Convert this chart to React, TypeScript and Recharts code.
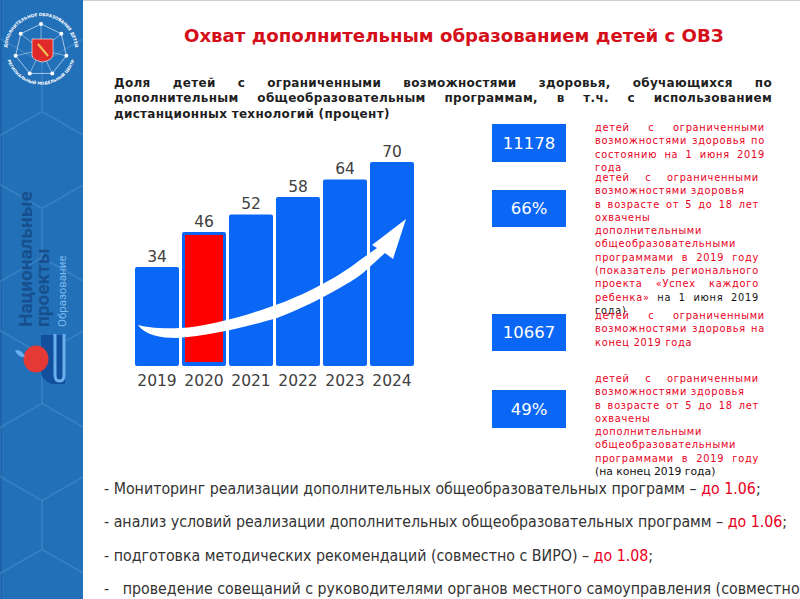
import React from "react";
import { BarChart, Bar, XAxis, YAxis, LabelList } from "recharts";

const years = ["2019", "2020", "2021", "2022", "2023", "2024"];
const shares = [34, 46, 52, 58, 64, 70];
const highlightYear = "2020";

const title = "Охват дополнительным образованием детей с ОВЗ";
const introLines = [
  "Доля детей с ограниченными возможностями здоровья, обучающихся по",
  "дополнительным общеобразовательным программам, в т.ч. с использованием",
  "дистанционных технологий (процент)",
];

const statValues = ["11178", "66%", "10667", "49%"];
// text after "|" is black in the original slide
const statNotes = [
  ["детей с ограниченными", "возможностями здоровья по", "состоянию на 1 июня 2019", "года"],
  [
    "детей с ограниченными",
    "возможностями здоровья",
    "в возрасте от 5 до 18 лет",
    "охвачены",
    "дополнительными",
    "общеобразовательными",
    "программами в 2019 году",
    "(показатель регионального",
    "проекта «Успех каждого",
    "ребенка» |на 1 июня 2019",
    "|года)",
  ],
  ["детей с ограниченными", "возможностями здоровья на", "конец 2019 года"],
  [
    "детей с ограниченными",
    "возможностями здоровья",
    "в возрасте от 5 до 18 лет",
    "охвачены",
    "дополнительными",
    "общеобразовательными",
    "программами в 2019 году",
    "|(на конец 2019 года)",
  ],
];
const unjustified = ["возможностями здоровья", "конец 2019 года", "|(на конец 2019 года)"];

const actions = [
  ["- Мониторинг реализации дополнительных общеобразовательных программ – ", "до 1.06", ";"],
  ["- анализ условий реализации дополнительных общеобразовательных программ – ", "до 1.06", ";"],
  ["- подготовка методических рекомендаций (совместно с ВИРО) – ", "до 1.08", ";"],
  ["-   проведение совещаний с руководителями органов местного самоуправления (совместно", "", ""],
];

const chartData = years.map((year, i) => ({ year, share: shares[i] }));

const BLUE = "#0a66f5";
const RED = "#e8001c";
const FONT = "'DejaVu Sans', sans-serif";

// blue bar, the current year gets a red fill inside
function YearBar(props: any) {
  const { x, y, width, height, payload } = props;
  return (
    <g>
      <rect x={x} y={y} width={width} height={height} rx={2} fill={BLUE} />
      {payload.year === highlightYear && (
        <rect x={x + 3} y={y + 3} width={width - 6} height={height - 7} fill="#ff0000" />
      )}
    </g>
  );
}

function Sidebar() {
  const hexes: string[] = [];
  for (let row = 0; row < 9; row++) {
    for (let col = 0; col < 3; col++) {
      const cx = col * 84 + (row % 2 ? 0 : 42);
      const cy = row * 73 + 14;
      hexes.push(
        `M${cx} ${cy - 48}L${cx + 42} ${cy - 24}L${cx + 42} ${cy + 24}L${cx} ${cy + 48}L${cx - 42} ${cy + 24}L${cx - 42} ${cy - 24}Z`
      );
    }
  }
  const spokes = [0, 1, 2, 3, 4, 5, 6].map((i) => {
    const a = (i * 2 * Math.PI) / 7 - Math.PI / 2;
    return [41 + 26 * Math.cos(a), 50 + 26 * Math.sin(a)];
  });
  return (
    <svg width={83} height={599} style={{ position: "absolute", left: 0, top: 0 }}>
      <rect width={83} height={599} fill="#2270b8" />
      <rect width={2} height={599} fill="#1c62a8" />
      <path d={hexes.join("")} fill="none" stroke="#3f86c6" strokeWidth={0.8} />
      {/* emblem */}
      <defs>
        <path id="emblemTop" d="M7 50A34 34 0 0 1 75 50" />
        <path id="emblemBottom" d="M7 58A35 35 0 0 0 75 58" />
      </defs>
      <polygon points={spokes.map((p) => p.join(",")).join(" ")} fill="none" stroke="#dbe9f6" strokeWidth={0.7} />
      {spokes.map((p, i) => (
        <g key={i}>
          <line x1={41} y1={50} x2={p[0]} y2={p[1]} stroke="#dbe9f6" strokeWidth={0.5} />
          <circle cx={p[0]} cy={p[1]} r={2} fill="#fff" />
        </g>
      ))}
      <text fontFamily={FONT} fontSize={4.2} fontWeight="bold" fill="#fff">
        <textPath href="#emblemTop" startOffset="50%" textAnchor="middle">
          ДОПОЛНИТЕЛЬНОЕ ОБРАЗОВАНИЕ ДЕТЕЙ
        </textPath>
      </text>
      <text fontFamily={FONT} fontSize={4} fontWeight="bold" fill="#fff">
        <textPath href="#emblemBottom" startOffset="50%" textAnchor="middle">
          РЕГИОНАЛЬНЫЙ МОДЕЛЬНЫЙ ЦЕНТР
        </textPath>
      </text>
      <path d="M32 39H53V55Q53 60 42.5 62Q32 60 32 55Z" fill="#e02a2a" stroke="#fff" strokeWidth={0.6} />
      <path d="M38 44L48 56" stroke="#f2c14e" strokeWidth={2} />
      {/* project logo */}
      <g fontFamily="'Roboto', sans-serif" transform="rotate(-90)">
        <text x={-327} y={32} fontSize={19} fontWeight="bold" fill="#17508f">Национальные</text>
        <text x={-327} y={49} fontSize={19} fontWeight="bold" fill="#17508f">проекты</text>
        <text x={-327} y={66} fontSize={11.5} fill="#7db7ea">Образование</text>
      </g>
      <path d="M41 335H65V383Q65 384 64 384H52Q41 380 41 372Z" fill="#124f9c" />
      <path d="M55 334V375Q55 381 59.5 381Q64 381 64 375V334" fill="none" stroke="#6bb0ee" strokeWidth={3} />
      <ellipse cx={36} cy={359} rx={12.5} ry={13.5} fill="#e53935" />
      <path d="M15 350Q22 349 25 357Q18 358 15 350Z" fill="#6bb0ee" />
    </svg>
  );
}

function StatNote({ lines, top, width }: { lines: string[]; top: number; width: number }) {
  return (
    <div style={{ position: "absolute", left: 595, top, width }}>
      {lines.map((line, i) => {
        const spread = line.includes(" ") && !unjustified.includes(line);
        const [redPart, blackPart] = line.split("|");
        const small = line.startsWith("|(");
        return (
          <div
            key={i}
            style={{
              height: 13.3,
              lineHeight: "13.3px",
              whiteSpace: "pre-wrap",
              textAlign: spread ? "justify" : "left",
              textAlignLast: spread ? "justify" : "left",
              letterSpacing: small ? 0 : 0.75,
              fontSize: small ? 10.8 : undefined,
            }}
          >
            {redPart}
            {blackPart && <span style={{ color: "#111" }}>{blackPart}</span>}
          </div>
        );
      })}
    </div>
  );
}

function StatBox({ value, top, height }: { value: string; top: number; height: number }) {
  return (
    <div
      style={{
        position: "absolute",
        left: 492,
        top,
        width: 74,
        height,
        lineHeight: `${height + 1}px`,
        background: BLUE,
        color: "#fff",
        textAlign: "center",
        fontSize: 16.5,
      }}
    >
      {value}
    </div>
  );
}

export default function App() {
  return (
    <div
      style={{
        position: "fixed",
        left: 0,
        top: 0,
        width: 800,
        height: 599,
        overflow: "hidden",
        background: "#fff",
        fontFamily: FONT,
      }}
    >
      <Sidebar />
      <div style={{ position: "absolute", left: 83, top: 0, width: 717, height: 1, background: "#cfcfcf" }} />

      <div style={{ position: "absolute", left: 184, top: 25, fontSize: 18.15, fontWeight: "bold", color: "#d40f1a", whiteSpace: "nowrap", lineHeight: "21px" }}>
        {title}
      </div>

      <div style={{ position: "absolute", left: 114, top: 75.5, width: 658, fontSize: 12, fontWeight: "bold", color: "#1f1f1f", letterSpacing: 0.3 }}>
        {introLines.map((line, i) => (
          <div
            key={i}
            style={{
              height: 15.5,
              lineHeight: "15.5px",
              whiteSpace: "nowrap",
              textAlign: "justify",
              textAlignLast: i < 2 ? "justify" : "left",
            }}
          >
            {line}
          </div>
        ))}
      </div>

      <div style={{ position: "absolute", left: 0, top: 0 }}>
        <BarChart
          width={800}
          height={599}
          data={chartData}
          barCategoryGap={1.5}
          margin={{ top: 162, right: 384.5, bottom: 0, left: 133.5 }}
        >
          <XAxis
            dataKey="year"
            axisLine={false}
            tickLine={false}
            interval={0}
            height={233}
            tick={{ fill: "#404040", fontSize: 15.5, fontFamily: FONT, dy: 1 }}
          />
          <YAxis hide domain={[0, 70]} />
          <Bar dataKey="share" shape={<YearBar />} isAnimationActive={false}>
            <LabelList dataKey="share" position="top" fill="#404040" fontSize={15.5} fontFamily={FONT} offset={5} />
          </Bar>
        </BarChart>
      </div>

      {/* growth arrow over the bars */}
      <svg width={800} height={599} style={{ position: "absolute", left: 0, top: 0, pointerEvents: "none" }}>
        <path
          d="M138 325C145 327 160 329 180 328C205 327 245 316 270 307C295 299 335 280 360 260L377 248L372 245L406 219L393 259L385 253L363 273C345 287 300 310 277 318C250 326 205 337 177 338C160 338 145 335 138 325Z"
          fill="#fff"
        />
      </svg>

      <StatBox value={statValues[0]} top={124} height={38} />
      <StatBox value={statValues[1]} top={190} height={37} />
      <StatBox value={statValues[2]} top={314} height={37} />
      <StatBox value={statValues[3]} top={390} height={38} />

      <div style={{ fontSize: 9.8, color: RED }}>
        <StatNote lines={statNotes[0]} top={121} width={170} />
        <StatNote lines={statNotes[1]} top={171} width={164} />
        <StatNote lines={statNotes[2]} top={309} width={170} />
        <StatNote lines={statNotes[3]} top={372} width={164} />
      </div>

      <div style={{ position: "absolute", left: 104, top: 0, fontSize: 15.8, color: "#333", fontStretch: "condensed", whiteSpace: "nowrap" }}>
        {actions.map(([text, due, tail], i) => (
          <div key={i} style={{ position: "absolute", top: 478.5 + i * 33.6, left: 0, whiteSpace: "pre" }}>
            {text}
            <span style={{ color: RED }}>{due}</span>
            {tail}
          </div>
        ))}
      </div>
    </div>
  );
}
